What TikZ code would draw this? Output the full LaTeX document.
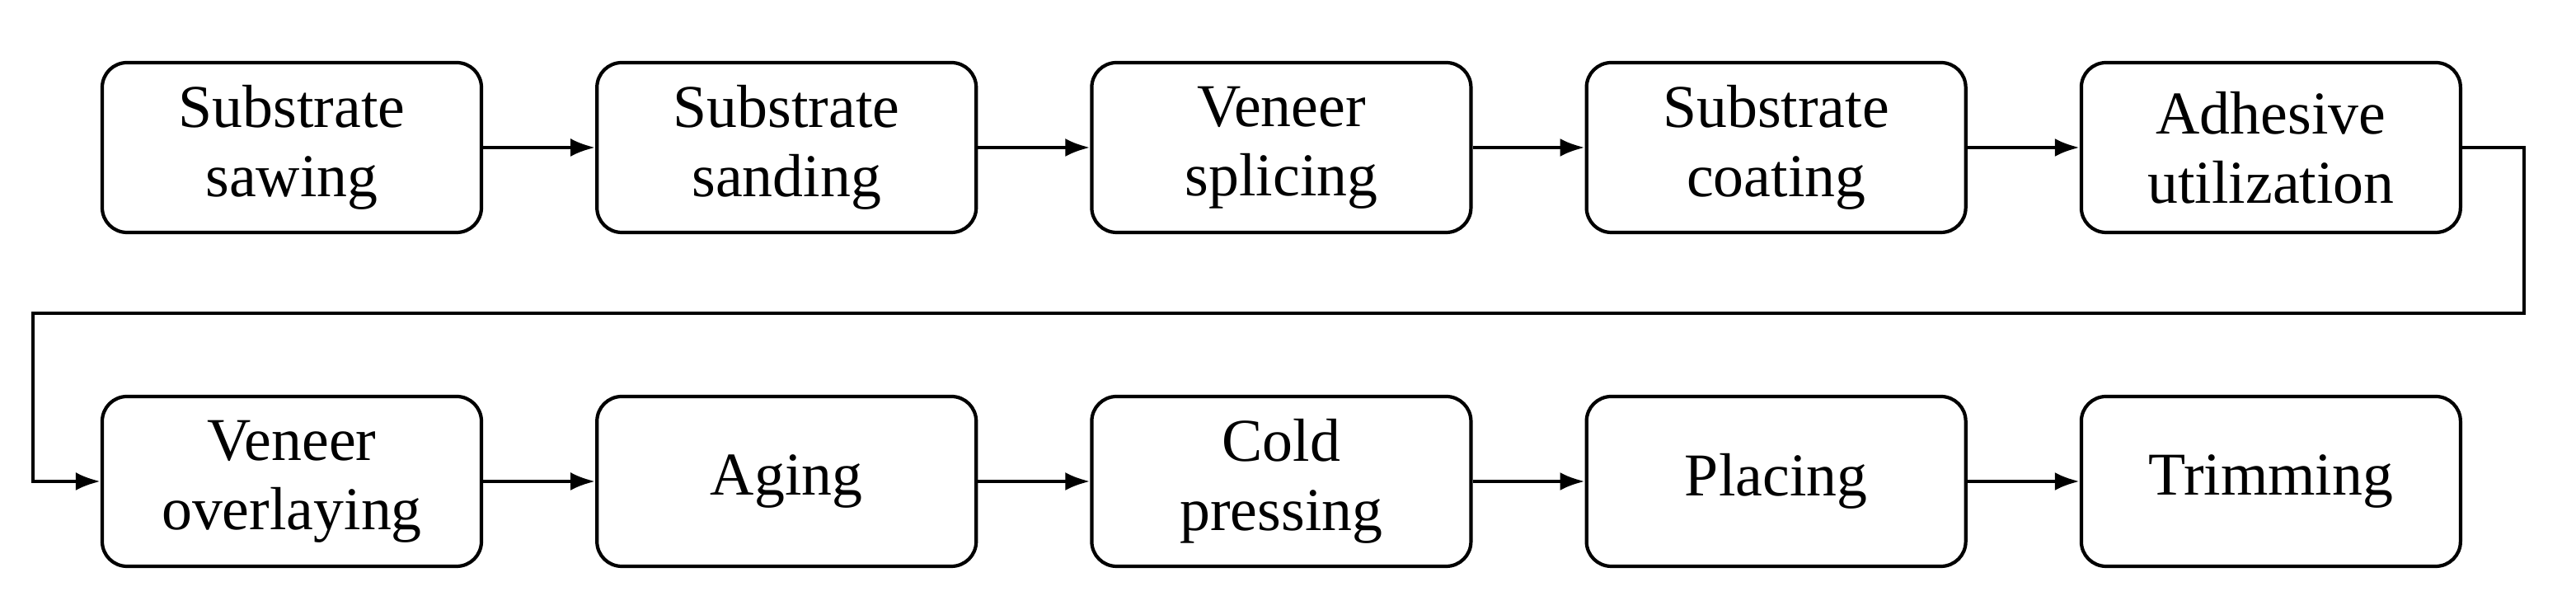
\documentclass[tikz,border=0pt]{standalone}
\usepackage{fontspec}
\setmainfont{Liberation Serif}
\usetikzlibrary{positioning,arrows.meta}

\tikzset{
	stage/.style={draw, line width=1.2pt, rounded corners=0.3cm, minimum width=4.6cm, minimum height=2.06cm, align=center, font=\fontsize{21}{24}\selectfont},
	flow/.style={line width=1.2pt, -{Latex[length=0.3cm,width=0.22cm]}}
}

\begin{document}
\begin{tikzpicture}
\useasboundingbox (0,0) rectangle (31.25,7.4);
% upper row
\node[stage] (saw) at (3.54,5.61) {Substrate\\sawing};
\node[stage, right=1.36cm of saw] (sand) {Substrate\\sanding};
\node[stage, right=1.36cm of sand] (splice) {Veneer\\splicing};
\node[stage, right=1.36cm of splice] (coat) {Substrate\\coating};
\node[stage, right=1.36cm of coat] (glue) {Adhesive\\utilization};
% lower row
\node[stage] (overlay) at (3.54,1.56) {Veneer\\overlaying};
\node[stage, right=1.36cm of overlay] (age) {Aging};
\node[stage, right=1.36cm of age] (press) {Cold\\pressing};
\node[stage, right=1.36cm of press] (place) {Placing};
\node[stage, right=1.36cm of place] (trim) {Trimming};

\foreach \a/\b in {saw/sand, sand/splice, splice/coat, coat/glue,
	overlay/age, age/press, press/place, place/trim} {
	\draw[flow] (\a) -- (\b);
}
\coordinate (back) at (30.62,3.6);
\coordinate (turn) at (0.4,3.6);
\draw[flow] (glue.east) -| (back) -- (turn) |- (overlay.west);
\end{tikzpicture}
\end{document}
